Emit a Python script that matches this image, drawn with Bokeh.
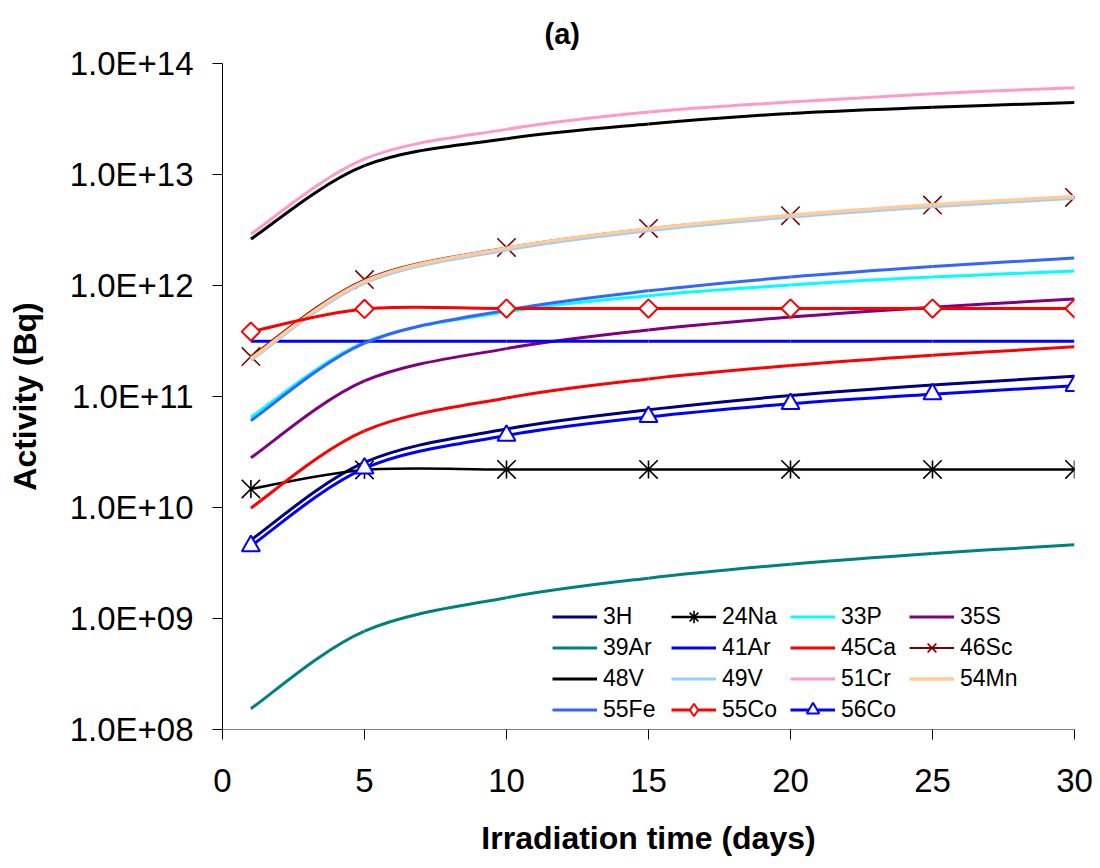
import numpy as np
from bokeh.plotting import figure
from bokeh.models import (ColumnDataSource, Legend, LegendItem, FixedTicker,
                          CustomJSTickFormatter, Title, Range1d)
from bokeh.embed import file_html
from bokeh.resources import INLINE

# Irradiation times (days) at which activity was evaluated
days = [1, 5, 10, 15, 20, 25, 30]

# Activity (Bq) of each radionuclide
act_3H = [5.1e9, 2.55e10, 5.1e10, 7.6e10, 1.02e11, 1.27e11, 1.52e11]
act_24Na = [1.47e10, 2.18e10, 2.2e10, 2.2e10, 2.2e10, 2.2e10, 2.2e10]
act_33P = [6.5e10, 3.07e11, 5.8e11, 8.1e11, 1.01e12, 1.19e12, 1.35e12]
act_35S = [2.8e10, 1.38e11, 2.7e11, 3.98e11, 5.2e11, 6.38e11, 7.55e11]
act_39Ar = [1.54e8, 7.7e8, 1.54e9, 2.31e9, 3.08e9, 3.85e9, 4.62e9]
act_41Ar = [3.14e11, 3.14e11, 3.14e11, 3.14e11, 3.14e11, 3.14e11, 3.14e11]
act_45Ca = [9.9e9, 4.9e10, 9.7e10, 1.44e11, 1.9e11, 2.35e11, 2.8e11]
act_46Sc = [2.29e11, 1.13e12, 2.2e12, 3.27e12, 4.26e12, 5.31e12, 6.21e12]
act_48V = [2.62e12, 1.2e13, 2.1e13, 2.85e13, 3.55e13, 4.03e13, 4.46e13]
act_49V = [2.12e11, 1.05e12, 2.09e12, 3.12e12, 4.13e12, 5.12e12, 6.1e12]
act_51Cr = [2.9e12, 1.38e13, 2.55e13, 3.65e13, 4.5e13, 5.35e13, 6.05e13]
act_54Mn = [2.2e11, 1.09e12, 2.17e12, 3.24e12, 4.29e12, 5.33e12, 6.35e12]
act_55Fe = [6.06e10, 3.02e11, 6.0e11, 8.95e11, 1.19e12, 1.48e12, 1.77e12]
act_55Co = [3.84e11, 6.15e11, 6.2e11, 6.2e11, 6.2e11, 6.2e11, 6.2e11]
act_56Co = [4.5e9, 2.25e10, 4.45e10, 6.55e10, 8.6e10, 1.05e11, 1.25e11]

x_ticks = [0, 5, 10, 15, 20, 25, 30]
y_ticks = [1e8, 1e9, 1e10, 1e11, 1e12, 1e13, 1e14]

FONT = "Liberation Sans"

# (label, values, colour, line width, marker style)
series = [
    ("3H", act_3H, "#000080", 3, None),
    ("24Na", act_24Na, "#000000", 2.5, "star"),
    ("33P", act_33P, "#00FFFF", 3, None),
    ("35S", act_35S, "#800080", 3, None),
    ("39Ar", act_39Ar, "#008080", 3, None),
    ("41Ar", act_41Ar, "#0000FF", 3, None),
    ("45Ca", act_45Ca, "#FF0000", 3, None),
    ("46Sc", act_46Sc, "#800000", 2, "x"),
    ("48V", act_48V, "#000000", 3, None),
    ("49V", act_49V, "#99CCFF", 3, None),
    ("51Cr", act_51Cr, "#FF99CC", 3, None),
    ("54Mn", act_54Mn, "#FFCC99", 3.5, None),
    ("55Fe", act_55Fe, "#3366FF", 3, None),
    ("55Co", act_55Co, "#FF0000", 3, "diamond"),
    ("56Co", act_56Co, "#0000FF", 3, "triangle"),
]


def smooth_path(xs, ys):
    """Cubic Bezier pieces through the points (Catmull-Rom style),
    built in the plot's x / log10(y) space."""
    lx = [float(v) for v in xs]
    ly = [float(np.log10(v)) for v in ys]
    n = len(lx)
    out = dict(x0=[], y0=[], x1=[], y1=[], cx0=[], cy0=[], cx1=[], cy1=[])
    for i in range(n - 1):
        a = max(i - 1, 0)
        b = min(i + 2, n - 1)
        c0x = lx[i] + (lx[i + 1] - lx[a]) / 6.0
        c0y = ly[i] + (ly[i + 1] - ly[a]) / 6.0
        c1x = lx[i + 1] - (lx[b] - lx[i]) / 6.0
        c1y = ly[i + 1] - (ly[b] - ly[i]) / 6.0
        out["x0"].append(lx[i]); out["y0"].append(10 ** ly[i])
        out["x1"].append(lx[i + 1]); out["y1"].append(10 ** ly[i + 1])
        out["cx0"].append(c0x); out["cy0"].append(10 ** c0y)
        out["cx1"].append(c1x); out["cy1"].append(10 ** c1y)
    return out


p = figure(width=1100, height=868, y_axis_type="log",
           x_range=Range1d(0, 30), y_range=Range1d(1e8, 1e14),
           output_backend="svg", toolbar_location=None,
           min_border_left=222, min_border_right=26,
           min_border_top=63, min_border_bottom=139)
p.outline_line_color = None
p.xgrid.visible = False
p.ygrid.visible = False
p.background_fill_color = "white"
p.border_fill_color = "white"

items = []
for name, vals, col, lw, style in series:
    src = ColumnDataSource(smooth_path(days, vals))
    r = p.bezier(x0="x0", y0="y0", x1="x1", y1="y1",
                 cx0="cx0", cy0="cy0", cx1="cx1", cy1="cy1",
                 source=src, line_color=col, line_width=lw)
    keys = [r]
    if style == "star":
        # "*" marker: diagonal cross plus a vertical stroke
        keys.append(p.scatter(x=days, y=vals, marker="x", size=26,
                              line_color=col, line_width=1.6))
        p.scatter(x=days, y=vals, marker="dash", angle=np.pi / 2, size=18,
                  line_color=col, line_width=1.6)
        # vertical stroke for the legend key (too small to show on the curve)
        keys.append(p.scatter(x=days, y=vals, marker="cross", size=0.1,
                              line_color=col, line_width=1.6))
    elif style == "x":
        keys.append(p.scatter(x=days, y=vals, marker="x", size=26,
                              line_color=col, line_width=1.6))
    elif style == "diamond":
        # legend-key diamond sits hidden inside the open square markers
        keys.append(p.scatter(x=days, y=vals, marker="diamond", size=10,
                              line_color=col, fill_color="white", line_width=2))
        p.scatter(x=days, y=vals, marker="square", angle=np.pi / 4, size=13,
                  line_color=col, fill_color="white", line_width=2)
    elif style == "triangle":
        keys.append(p.scatter(x=days, y=vals, marker="triangle", size=18,
                              line_color=col, fill_color="white", line_width=2))
    items.append(LegendItem(label=name, renderers=keys))

legend = Legend(items=items, orientation="horizontal", ncols=4,
                location=(330, 4), padding=0, margin=0, spacing=0,
                glyph_width=45, glyph_height=31, label_standoff=6,
                label_width=68, label_height=26,
                label_text_font=FONT, label_text_font_size="23px",
                label_text_color="black",
                background_fill_alpha=0, border_line_color=None)
p.add_layout(legend)

# axes
p.xaxis.ticker = FixedTicker(ticks=x_ticks)
p.yaxis.ticker = FixedTicker(ticks=y_ticks)
p.yaxis.formatter = CustomJSTickFormatter(code="""
    const s = tick.toExponential(1).toUpperCase();
    return s.replace(/E\\+(\\d)$/, 'E+0$1');
""")
for ax in (p.xaxis[0], p.yaxis[0]):
    ax.major_tick_out = 10
    ax.major_tick_in = 0
    ax.minor_tick_out = 0
    ax.minor_tick_in = 0
    ax.major_tick_line_color = "black"
    ax.major_label_text_font = FONT
    ax.major_label_text_font_size = "33px"
    ax.major_label_text_color = "black"
    ax.axis_label_text_font = FONT
    ax.axis_label_text_font_size = "32px"
    ax.axis_label_text_font_style = "bold"
    ax.axis_label_text_color = "black"
p.xaxis.axis_line_color = "#808080"
p.yaxis.axis_line_color = "black"
p.xaxis.major_label_standoff = 29
p.yaxis.major_label_standoff = 19
p.xaxis.axis_label = "Irradiation time (days)"
p.yaxis.axis_label = "Activity (Bq)"
p.xaxis.axis_label_standoff = 25
p.yaxis.axis_label_standoff = 24

title = Title(text="(a)", align="left", offset=322, standoff=27,
              text_font=FONT, text_font_size="29px", text_font_style="bold",
              text_color="black")
p.add_layout(title, "above")

open("out.html", "w").write(file_html(p, INLINE))
